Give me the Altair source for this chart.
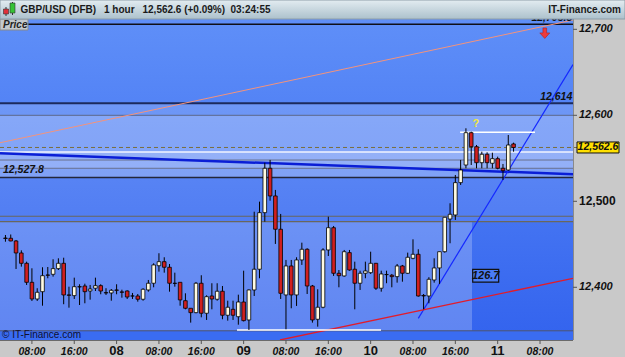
import altair as alt
import pandas as pd

# ---------------- data ----------------
opens = [12457.3, 12457.0, 12453.9, 12439.9, 12427.9, 12405.8, 12386.4, 12394.9, 12414.3, 12415.1,
         12421.7, 12427.9, 12391.1, 12390.3, 12400.7, 12401.5, 12395.7, 12398.9, 12401.9, 12393.8,
         12393.4, 12396.9, 12394.6, 12395.7, 12389.9, 12389.9, 12386.1, 12396.9, 12404.7, 12425.1,
         12429.8, 12423.3, 12404.7, 12405.8, 12384.4, 12375.6, 12370.5, 12404.7, 12369.8, 12389.9,
         12386.1, 12395.4, 12367.5, 12374.4, 12365.8, 12382.9, 12362.0, 12396.9, 12421.0, 12486.8,
         12538.4, 12506.2, 12467.5, 12391.1, 12424.8, 12391.1, 12431.8, 12444.2, 12401.5, 12362.8,
         12376.8, 12443.4, 12469.3, 12416.3, 12413.2, 12440.3, 12421.0, 12404.7, 12416.3, 12417.0,
         12427.9, 12398.9, 12414.7, 12414.0, 12412.4, 12424.8, 12416.3, 12433.7, 12438.4, 12390.5,
         12389.9, 12408.5, 12422.5, 12441.4, 12479.4, 12484.1, 12521.7, 12542.2, 12579.8, 12563.5,
         12544.9, 12554.7, 12544.2, 12549.6, 12538.4, 12536.4, 12566.7]
highs = [12460.8, 12461.4, 12455.0, 12443.0, 12429.8, 12422.1, 12398.9, 12423.3, 12423.6, 12432.6,
         12433.7, 12434.4, 12400.7, 12411.2, 12403.5, 12404.2, 12402.7, 12411.2, 12403.5, 12398.9,
         12398.0, 12403.5, 12397.2, 12396.5, 12393.4, 12392.2, 12398.9, 12408.5, 12427.9, 12439.6,
         12434.9, 12427.1, 12417.0, 12405.8, 12393.0, 12375.6, 12406.2, 12414.0, 12390.7, 12404.7,
         12404.7, 12401.5, 12384.4, 12384.4, 12391.4, 12419.3, 12397.5, 12487.9, 12499.6, 12544.9,
         12548.1, 12513.2, 12485.3, 12431.8, 12431.8, 12434.9, 12451.9, 12445.4, 12402.7, 12397.7,
         12445.4, 12482.1, 12471.3, 12420.1, 12443.4, 12443.4, 12429.8, 12419.3, 12429.8, 12441.4,
         12428.3, 12419.3, 12419.3, 12415.5, 12427.1, 12426.0, 12440.3, 12455.8, 12444.2, 12392.2,
         12411.7, 12433.7, 12441.4, 12481.4, 12497.7, 12530.6, 12548.1, 12584.9, 12581.0, 12565.5,
         12557.7, 12557.0, 12556.5, 12551.9, 12543.4, 12577.1, 12568.2]
lows = [12453.0, 12453.5, 12421.3, 12424.0, 12402.7, 12384.1, 12384.1, 12378.6, 12410.5, 12412.4,
        12420.1, 12380.3, 12376.3, 12386.4, 12379.4, 12381.4, 12385.6, 12395.7, 12391.9, 12391.1,
        12384.4, 12391.9, 12387.9, 12386.4, 12386.4, 12383.3, 12384.4, 12394.9, 12400.0, 12418.2,
        12417.0, 12394.9, 12400.7, 12378.6, 12374.4, 12358.9, 12369.8, 12365.1, 12362.0, 12374.4,
        12384.4, 12362.8, 12361.2, 12362.0, 12356.5, 12360.3, 12350.4, 12389.9, 12410.5, 12476.3,
        12500.7, 12450.4, 12386.4, 12351.2, 12375.6, 12378.3, 12426.0, 12392.2, 12358.9, 12354.2,
        12375.6, 12436.4, 12413.2, 12400.0, 12412.4, 12419.3, 12374.4, 12396.9, 12410.5, 12415.5,
        12396.9, 12394.9, 12404.7, 12400.0, 12405.4, 12406.5, 12415.5, 12432.6, 12389.1, 12374.4,
        12381.4, 12405.4, 12403.9, 12440.3, 12451.2, 12478.3, 12519.0, 12538.4, 12542.2, 12538.4,
        12538.4, 12538.4, 12538.4, 12537.2, 12524.8, 12535.6, 12557.7]
closes = [12456.8, 12453.9, 12439.9, 12427.9, 12405.8, 12386.4, 12394.2, 12413.5, 12414.0, 12421.7,
          12427.9, 12391.1, 12390.7, 12400.7, 12400.4, 12394.9, 12398.0, 12401.9, 12395.7, 12393.4,
          12396.5, 12396.5, 12394.2, 12388.7, 12389.9, 12386.1, 12397.7, 12404.7, 12426.0, 12429.8,
          12423.3, 12404.7, 12404.5, 12385.3, 12375.6, 12370.5, 12404.7, 12369.8, 12389.1, 12386.4,
          12395.4, 12367.5, 12376.8, 12367.5, 12382.9, 12361.2, 12396.9, 12421.0, 12486.8, 12538.4,
          12506.2, 12467.5, 12393.0, 12424.8, 12391.1, 12431.8, 12444.2, 12401.5, 12362.0, 12376.8,
          12443.4, 12469.3, 12416.3, 12413.5, 12441.4, 12420.1, 12404.7, 12416.3, 12419.0, 12427.9,
          12398.9, 12415.5, 12414.9, 12412.4, 12424.8, 12416.3, 12434.9, 12438.4, 12389.9, 12389.9,
          12409.3, 12422.5, 12441.4, 12481.4, 12484.9, 12521.7, 12536.4, 12579.8, 12563.5, 12544.9,
          12554.7, 12544.9, 12549.6, 12538.4, 12535.6, 12565.5, 12562.6]

# hour slots (candle 0 = day 07, 03:00); time-axis ticks
tick_slots = [5, 13, 21, 29, 37, 45, 53, 61, 69, 77, 85, 93, 101]
tick_labels = ["08:00", "16:00", "08", "08:00", "16:00", "09", "08:00", "16:00", "10",
               "08:00", "16:00", "11", "08:00"]
price_ticks = [12400, 12500, 12600, 12700]
price_labels = ["12,400", "12,500", "12,600", "12,700"]
last_price = 12562.6

# horizontal levels
level_prices = [12705.8, 12614.0, 12600.0, 12557.3, 12548.0, 12538.4, 12527.8, 12482.6, 12476.3, 12349.4]
level_colors = ["#101018", "#1c2a5c", "#5d688a", "#f2f5ff", "#68708e", "#68708e", "#23273a",
                "#6a675c", "#6a675c", "#50566e"]
level_widths = [1.5, 2.0, 1.0, 1.5, 1.0, 1.0, 1.5, 1.2, 1.2, 1.0]

# zone bands
band_lo = [12527.8, 12538.4, 12476.3, 12349.4, 12338.7, 12600.0]
band_hi = [12600.0, 12557.3, 12527.8, 12476.3, 12349.4, 12614.0]
band_x0 = [-1.03, -1.03, -1.03, -1.03, -1.03, -1.03]
band_x1 = [107.23, 107.23, 107.23, 88.15, 107.23, 107.23]
band_colors = ["#ffffff", "#ffffff", "#ffffff", "#ffffff", "#3a6cf2", "#ffffff"]
band_opac = [0.30, 0.15, 0.08, 0.22, 1.0, 0.16]

# sloped / segment lines
seg_x1 = [-1.03, -1.03, 78.0, 51.87, 85.9, 43.75]
seg_y1 = [12568.1, 12555.8, 12363.9, 12338.7, 12580.2, 12350.4]
seg_x2 = [107.23, 107.23, 107.23, 107.23, 100.05, 70.95]
seg_y2 = [12710.8, 12531.5, 12659.0, 12410.4, 12580.2, 12350.4]
seg_colors = ["#f3937c", "#0a1ed6", "#1428ff", "#e21c2a", "#ffffff", "#ffffff"]
seg_widths = [1.0, 2.5, 1.2, 1.3, 1.5, 1.5]

W, H = 573, 321
FONT = "Liberation Sans"
xs = alt.Scale(domain=[-1.03, 107.23], nice=False, zero=False, padding=0)
ys = alt.Scale(domain=[12338.7, 12712.0], nice=False, zero=False, padding=0)

candles = pd.DataFrame({"slot": list(range(len(opens))), "open": opens, "high": highs,
                        "low": lows, "close": closes})
candles["col"] = ["#fffbe2" if c >= o else "#d11f1f" for o, c in zip(opens, closes)]

one = pd.DataFrame({"a": [0]})


def X(f):
    return alt.X(f, scale=xs, axis=None)


def Y(f):
    return alt.Y(f, scale=ys, axis=None)


bg = alt.Chart(pd.DataFrame({"x0": [-1.03], "x1": [107.23], "lo": [12338.7], "hi": [12712.0]})).mark_rect(
    fill=alt.LinearGradient(gradient="linear", x1=0, x2=0, y1=0, y2=1,
                            stops=[alt.GradientStop(color="#5f8ff8", offset=0),
                                   alt.GradientStop(color="#3363ee", offset=1)])
).encode(x=X("x0:Q"), x2="x1:Q", y=Y("lo:Q"), y2="hi:Q")

bands = alt.Chart(pd.DataFrame({"lo": band_lo, "hi": band_hi, "x0": band_x0, "x1": band_x1,
                                "c": band_colors, "o": band_opac})).mark_rect().encode(
    x=X("x0:Q"), x2="x1:Q", y=Y("lo:Q"), y2="hi:Q",
    color=alt.Color("c:N", scale=None), opacity=alt.Opacity("o:Q", scale=None))

levels = alt.Chart(pd.DataFrame({"p": level_prices, "c": level_colors, "w": level_widths})).mark_rule().encode(
    y=Y("p:Q"), color=alt.Color("c:N", scale=None), strokeWidth=alt.StrokeWidth("w:Q", scale=None))

dashed = alt.Chart(pd.DataFrame({"p": [last_price]})).mark_rule(
    color="#7a6f3c", strokeDash=[4, 3], strokeWidth=1).encode(
    y=Y("p:Q"), x=alt.value(0), x2=alt.value(578))

segs = alt.Chart(pd.DataFrame({"x1": seg_x1, "y1": seg_y1, "x2": seg_x2, "y2": seg_y2,
                               "c": seg_colors, "w": seg_widths})).mark_rule(clip=True).encode(
    x=X("x1:Q"), x2="x2:Q", y=Y("y1:Q"), y2="y2:Q",
    color=alt.Color("c:N", scale=None), strokeWidth=alt.StrokeWidth("w:Q", scale=None))

wicks = alt.Chart(candles).mark_rule(color="#000", strokeWidth=1).encode(
    x=X("slot:Q"), y=Y("low:Q"), y2="high:Q")

bodies = alt.Chart(candles).mark_bar(size=3.6, stroke="#000", strokeWidth=0.8).encode(
    x=X("slot:Q"), y=Y("open:Q"), y2="close:Q", fill=alt.Fill("col:N", scale=None))


def txt(df, **kw):
    return alt.Chart(df).mark_text(font=FONT, **kw).encode(x=X("x:Q"), y=Y("y:Q"), text="t:N")


lbl_right = txt(pd.DataFrame({"x": [107.1, 107.1], "y": [12614.0, 12705.8], "t": ["12,614", "12,705.8"]}),
                align="right", baseline="bottom", dy=-1, fontSize=10.5, fontWeight="bold",
                fontStyle="italic", color="#111")
lbl_left = txt(pd.DataFrame({"x": [-0.46], "y": [12527.8], "t": ["12,527.8"]}),
               align="left", baseline="bottom", dy=-2, fontSize=10.5, fontWeight="bold",
               fontStyle="italic", color="#111")
qmark = txt(pd.DataFrame({"x": [88.9], "y": [12589.9], "t": ["?"]}),
            align="center", baseline="middle", fontSize=11, fontWeight="bold", color="#f2e83a")

meas_box = alt.Chart(pd.DataFrame({"x0": [88.28], "x1": [93.19], "y0": [12406.1], "y1": [12420.9]})).mark_rect(
    fill="#4a7cf5", stroke="#111", strokeWidth=1.2).encode(
    x=X("x0:Q"), x2="x1:Q", y=Y("y0:Q"), y2="y1:Q")
meas_txt = txt(pd.DataFrame({"x": [90.73], "y": [12413.5], "t": ["126.7"]}),
               align="center", baseline="middle", fontSize=11, fontWeight="bold",
               fontStyle="italic", color="#111")

arrow = alt.Chart(pd.DataFrame({"x": [101.9], "y": [12695.5]})).mark_point(
    shape="M-0.35,-1L0.35,-1L0.35,-0.05L0.95,-0.05L0,1L-0.95,-0.05L-0.35,-0.05Z",
    filled=True, size=110, color="#ee3b3b", stroke="#b02020", strokeWidth=0.6, opacity=1).encode(
    x=X("x:Q"), y=Y("y:Q"))

# ---- axes drawn from the tick arrays ----
frame_r = alt.Chart(one).mark_rule(color="#8a8a8a", strokeWidth=1).encode(
    x=alt.value(W + 0.5), y=alt.value(0), y2=alt.value(H))
frame_b = alt.Chart(one).mark_rule(color="#6a6a6a", strokeWidth=1).encode(
    x=alt.value(0), x2=alt.value(W), y=alt.value(H + 0.5))

yt_df = pd.DataFrame({"y": price_ticks, "t": price_labels,
                      "big": [p == 12500 for p in price_ticks]})
y_ticks = alt.Chart(yt_df).mark_rule(color="#555").encode(
    y=Y("y:Q"), x=alt.value(W), x2=alt.value(W + 4))
y_lbl_i = alt.Chart(yt_df[~yt_df.big]).mark_text(
    font=FONT, fontSize=11, fontWeight="bold", fontStyle="italic", color="#111",
    align="left", baseline="middle").encode(x=alt.value(W + 6), y=Y("y:Q"), text="t:N")
y_lbl_n = alt.Chart(yt_df[yt_df.big]).mark_text(
    font=FONT, fontSize=12, fontWeight="bold", color="#111",
    align="left", baseline="middle").encode(x=alt.value(W + 6), y=Y("y:Q"), text="t:N")

xt_df = pd.DataFrame({"x": tick_slots, "t": tick_labels,
                      "day": [len(t) < 4 for t in tick_labels]})
x_ticks = alt.Chart(xt_df).mark_rule(color="#555").encode(
    x=X("x:Q"), y=alt.value(H), y2=alt.value(H + 4))
x_lbl_i = alt.Chart(xt_df[~xt_df.day]).mark_text(
    font=FONT, fontSize=10.5, fontWeight="bold", fontStyle="italic", color="#111",
    align="center", baseline="alphabetic").encode(x=X("x:Q"), y=alt.value(H + 15), text="t:N")
x_lbl_d = alt.Chart(xt_df[xt_df.day]).mark_text(
    font=FONT, fontSize=13, fontWeight="bold", color="#111",
    align="center", baseline="alphabetic").encode(x=X("x:Q"), y=alt.value(H + 14.5), text="t:N")

# last price tag on the price axis
tag_box = alt.Chart(pd.DataFrame({"p0": [last_price - 6.4], "p1": [last_price + 6.4]})).mark_rect(
    fill="#ffe000", stroke="#111", strokeWidth=1).encode(
    x=alt.value(577), x2=alt.value(619), y=Y("p0:Q"), y2="p1:Q")
tag_txt = alt.Chart(pd.DataFrame({"p": [last_price], "t": ["12,562.6"]})).mark_text(
    font=FONT, fontSize=10.5, fontWeight="bold", fontStyle="italic", color="#111",
    align="center", baseline="middle").encode(x=alt.value(598), y=Y("p:Q"), text="t:N")

copyright_txt = alt.Chart(one).mark_text(
    text="© IT-Finance.com", font=FONT, fontSize=10, color="#101030", align="left",
    baseline="middle").encode(x=alt.value(2), y=alt.value(H - 5))

# header bar and plot label
price_box = alt.Chart(one).mark_rect(fill="#c4c9cd", stroke="#8a8a8a", strokeWidth=1).encode(
    x=alt.value(0), x2=alt.value(28), y=alt.value(0), y2=alt.value(11))
price_txt = alt.Chart(one).mark_text(text="Price", font=FONT, fontSize=10, fontWeight="bold",
                                     fontStyle="italic", color="#222", align="left",
                                     baseline="alphabetic").encode(x=alt.value(3), y=alt.value(9))

header = alt.Chart(one).mark_rect(
    fill=alt.LinearGradient(gradient="linear", x1=0, x2=0, y1=0, y2=1,
                            stops=[alt.GradientStop(color="#e3ecf1", offset=0),
                                   alt.GradientStop(color="#acc1cc", offset=1)]),
    stroke="#8e9ea8", strokeWidth=1).encode(
    x=alt.value(0), x2=alt.value(625), y=alt.value(-19), y2=alt.value(0))

head_x = [20.5, 104, 142.5, 230.5]
head_t = ["GBP/USD (DFB)", "1 hour", "12,562.6 (+0.09%)", "03:24:55"]
head_layers = [
    alt.Chart(one).mark_text(text=t, font=FONT, fontSize=10, fontWeight="bold", color="#1a1a1a",
                             align="left", baseline="alphabetic").encode(x=alt.value(px), y=alt.value(-6))
    for px, t in zip(head_x, head_t)
]
brand = alt.Chart(one).mark_text(text="IT-Finance.com", font=FONT, fontSize=10, fontWeight="bold",
                                 color="#1a1a1a", align="right", baseline="alphabetic").encode(
    x=alt.value(621), y=alt.value(-6))

icon = [
    alt.Chart(one).mark_rule(color="#333", strokeWidth=1).encode(
        x=alt.value(6), y=alt.value(-12), y2=alt.value(-3)),
    alt.Chart(one).mark_rule(color="#333", strokeWidth=1).encode(
        x=alt.value(12.5), y=alt.value(-17), y2=alt.value(-4)),
    alt.Chart(one).mark_rect(fill="#e0303a", stroke="#333", strokeWidth=0.6).encode(
        x=alt.value(3.5), x2=alt.value(8.5), y=alt.value(-10), y2=alt.value(-5)),
    alt.Chart(one).mark_rect(fill="#36c236", stroke="#333", strokeWidth=0.6).encode(
        x=alt.value(10), x2=alt.value(15), y=alt.value(-16), y2=alt.value(-6)),
]

chart = alt.layer(
    bg, bands, levels, segs, dashed, wicks, bodies, lbl_right, lbl_left, qmark,
    meas_box, meas_txt, arrow, frame_r, frame_b, y_ticks, y_lbl_i, y_lbl_n,
    x_ticks, x_lbl_i, x_lbl_d, tag_box, tag_txt, copyright_txt, price_box, price_txt,
    header, *head_layers, brand, *icon
).properties(
    width=W, height=H,
    padding={"left": 0, "top": 19, "right": 52, "bottom": 17},
    autosize=alt.AutoSizeParams(type="none")
).configure(
    background="#c9c9c9"
).configure_view(stroke=None)

chart.save("out.html", embed_options={"renderer": "svg", "actions": False})
